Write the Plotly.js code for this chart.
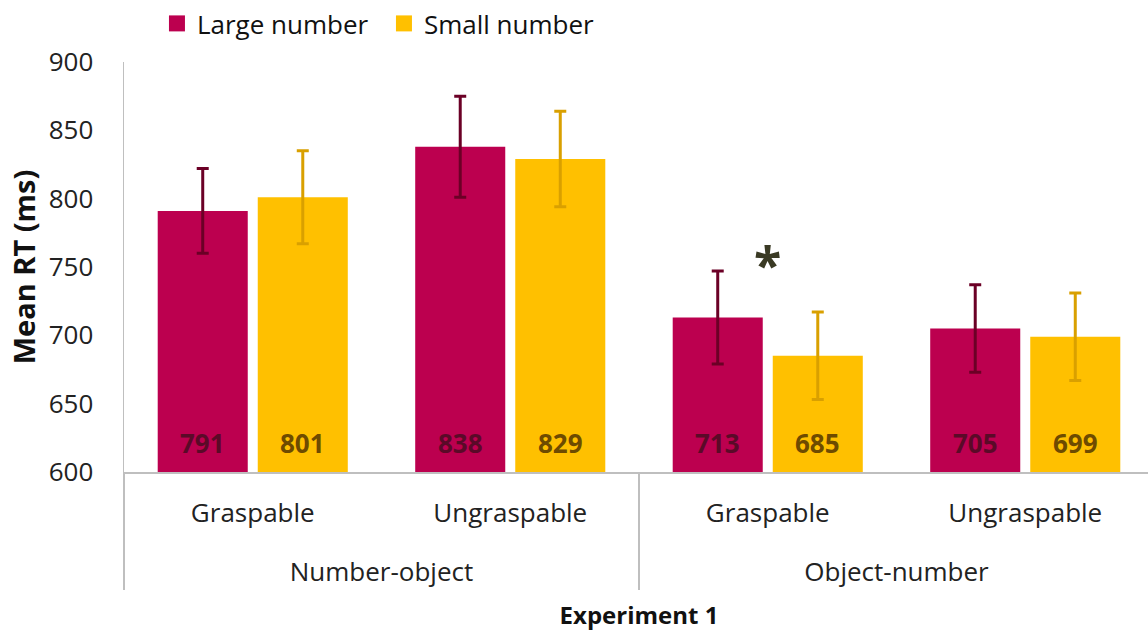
<!DOCTYPE html>
<html>
<head>
<meta charset="utf-8">
<script src="https://cdn.plot.ly/plotly-3.0.1.min.js"></script>
<style>
html,body{margin:0;padding:0;overflow:hidden;background:#fff;}
#chart{width:1154px;height:635px;}
</style>
</head>
<body>
<div id="chart"></div>
<script>
const orderGroups = ["Number-object", "Number-object", "Object-number", "Object-number"];
const objectTypes = ["Graspable", "Ungraspable", "Graspable", "Ungraspable"];
const largeRT = [791, 838, 713, 705];
const smallRT = [801, 829, 685, 699];
const largeErr = [31, 37, 34, 32];
const smallErr = [34, 35, 32, 32];
const seriesNames = ["Large number", "Small number"];
const yTicks = [600, 650, 700, 750, 800, 850, 900];

const FONT = "Open Sans, Noto Sans, sans-serif";
const COLORS = {
  large: {bar: "#BC004F", err: "#6B0026", text: "#5A0A28"},
  small: {bar: "#FFC000", err: "#D9A000", text: "#6E4B00"}
};

function barTrace(name, vals, errs, c) {
  return {
    type: "bar",
    name: name,
    legendgroup: name,
    showlegend: false,
    x: [orderGroups, objectTypes],
    y: vals,
    marker: {color: c.bar},
    error_y: {type: "data", array: errs, visible: true, color: c.err, thickness: 3, width: 6},
    hoverinfo: "x+y+name"
  };
}
function legendTrace(name, c) {
  return {
    type: "scatter",
    mode: "markers",
    name: name,
    legendgroup: name,
    x: [[orderGroups[0]], [objectTypes[0]]],
    y: [null],
    marker: {symbol: "square", size: 16, color: c.bar},
    hoverinfo: "skip"
  };
}

const data = [
  barTrace(seriesNames[0], largeRT, largeErr, COLORS.large),
  barTrace(seriesNames[1], smallRT, smallErr, COLORS.small),
  legendTrace(seriesNames[0], COLORS.large),
  legendTrace(seriesNames[1], COLORS.small)
];

// value labels at the base of each bar
const nCat = objectTypes.length;
const valueLabels = [];
[[largeRT, COLORS.large, -50], [smallRT, COLORS.small, 50]].forEach(function (s) {
  s[0].forEach(function (v, i) {
    valueLabels.push({
      xref: "paper", yref: "y",
      x: (i + 0.5) / nCat, xshift: s[2], xanchor: "center",
      y: yTicks[0], yanchor: "bottom", yshift: 9,
      text: String(v),
      showarrow: false,
      font: {family: FONT, size: 26, color: s[1].text, weight: "bold"}
    });
  });
});

const layout = {
  width: 1154,
  height: 635,
  margin: {l: 124, r: 0, t: 62, b: 163},
  paper_bgcolor: "#fff",
  plot_bgcolor: "#fff",
  font: {family: FONT, size: 26, color: "#222"},
  barmode: "group",
  bargap: 0.223,
  bargroupgap: 0.1,
  showlegend: true,
  legend: {
    orientation: "h",
    x: 0.032, xanchor: "left",
    y: 1.095, yanchor: "middle",
    font: {family: FONT, size: 26, color: "#111"},
    traceorder: "normal",
    entrywidth: 182
  },
  xaxis: {
    type: "multicategory",
    showline: true,
    linecolor: "#BFBFBF",
    linewidth: 1.5,
    showgrid: false,
    zeroline: false,
    ticks: "",
    ticksuffix: "<br><span style='font-size:44px'>\u00a0</span>",
    ticklabelstandoff: 17,
    showdividers: true,
    dividercolor: "#BFBFBF",
    dividerwidth: 1.5,
    tickfont: {family: FONT, size: 26, color: "#222"},
    title: {text: "Experiment 1", font: {family: FONT, size: 24, color: "#111", weight: "bold"}, standoff: 18}
  },
  yaxis: {
    range: [600, 900],
    tickvals: yTicks,
    ticktext: yTicks.map(String),
    showline: true,
    linecolor: "#BFBFBF",
    linewidth: 1.5,
    showgrid: false,
    zeroline: false,
    ticks: "",
    ticklabelstandoff: 24,
    tickfont: {family: FONT, size: 26, color: "#222"},
    title: {text: "Mean RT (ms)", font: {family: FONT, size: 29, color: "#111", weight: "bold"}, standoff: 4}
  },
  annotations: valueLabels.concat([{
    xref: "paper", yref: "y",
    x: 0.625, y: 752,
    text: "*",
    showarrow: false,
    font: {family: FONT, size: 50, color: "#3A3A24", weight: "bold"}
  }])
};

Plotly.newPlot("chart", data, layout, {displayModeBar: false, staticPlot: true});
</script>
</body>
</html>
